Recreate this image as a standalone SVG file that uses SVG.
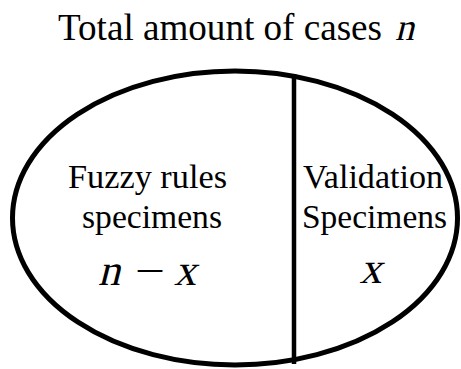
<svg xmlns="http://www.w3.org/2000/svg" width="461" height="369" viewBox="0 0 461 369">
<defs>
<ellipse id="setShape" cx="235" cy="218" rx="222.5" ry="147" fill="none" stroke="#000" stroke-width="5"/>
</defs>
<rect width="461" height="369" fill="#fff"/>
<g id="title" font-family="Liberation Serif" fill="#000">
<text x="58" y="40" font-size="37" textLength="324" lengthAdjust="spacingAndGlyphs">Total amount of cases</text>
<text transform="translate(404.5,40) skewX(-14)" font-size="38" text-anchor="middle">n</text>
</g>
<g id="set">
<use href="#setShape"/>
</g>
<g id="connectors">
<line x1="294" y1="74" x2="294" y2="364" stroke="#000" stroke-width="4.5"/>
</g>
<g id="fuzzy" font-family="Liberation Serif" text-anchor="middle" fill="#000">
<text x="147.5" y="188" font-size="33" textLength="159" lengthAdjust="spacingAndGlyphs">Fuzzy rules</text>
<text x="152" y="228" font-size="33" textLength="140" lengthAdjust="spacingAndGlyphs">specimens</text>
<text transform="translate(109,285) skewX(-14)" font-size="44">n</text>
<text x="150" y="285" font-size="42" textLength="30" lengthAdjust="spacingAndGlyphs">−</text>
<text transform="translate(185,285) skewX(-14)" font-size="44">x</text>
</g>
<g id="validation" font-family="Liberation Serif" text-anchor="middle" fill="#000">
<text x="373" y="188" font-size="33" textLength="140" lengthAdjust="spacingAndGlyphs">Validation</text>
<text x="374.5" y="228" font-size="33" textLength="145" lengthAdjust="spacingAndGlyphs">Specimens</text>
<text transform="translate(370.5,283) skewX(-14)" font-size="44">x</text>
</g>
</svg>
